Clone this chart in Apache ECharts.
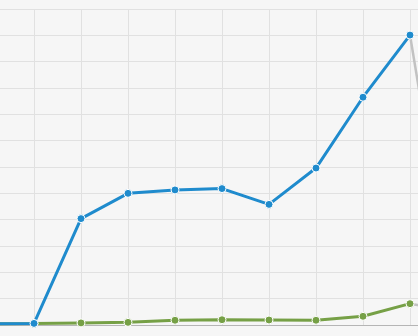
<!DOCTYPE html>
<html>
<head>
<meta charset="utf-8">
<script src="https://cdn.jsdelivr.net/npm/echarts@6/dist/echarts.min.js"></script>
<style>
html,body{margin:0;padding:0;background:#f6f6f6;overflow:hidden;width:418px;height:336px;}
#wrap{position:relative;width:418px;height:336px;overflow:hidden;}
#c{position:absolute;left:-12.7px;top:0;width:470.4px;height:336px;}
</style>
</head>
<body>
<div id="wrap"><div id="c"></div></div>
<script>
// Categories (the view is a crop of a wider chart)
var categories = ['1','2','3','4','5','6','7','8','9','10','11'];
// Blue series
var blueValues = [0.5, 0.6, 40.4, 50.0, 51.3, 51.8, 45.8, 59.6, 86.5, 110.1];
// Green series
var greenValues = [0.5, 0.6, 0.8, 1.0, 1.8, 2.0, 1.9, 1.8, 3.3, 8.1];
// Gray continuation values after the last coloured point
var blueNext = [110.1, 2.0];
var greenNext = [8.1, 5.0];

function tail(pair){
  var arr = [];
  for (var i = 0; i < categories.length; i++) arr.push(null);
  arr[blueValues.length - 1] = pair[0];
  arr[blueValues.length] = pair[1];
  return arr;
}

var chart = echarts.init(document.getElementById('c'));
chart.setOption({
  backgroundColor: '#f6f6f6',
  animation: false,
  grid: { left: 0, right: 0, top: 9, bottom: 11, containLabel: false },
  xAxis: {
    type: 'category',
    data: categories,
    boundaryGap: false,
    axisLine: { show: true, lineStyle: { color: '#b5b5b5', width: 1 } },
    axisTick: { show: false },
    axisLabel: { show: false },
    splitLine: { show: true, lineStyle: { color: '#e1e1e1', width: 1 } }
  },
  yAxis: {
    type: 'value',
    min: 0, max: 120, interval: 10,
    axisLine: { show: false },
    axisTick: { show: false },
    axisLabel: { show: false },
    splitLine: { show: true, lineStyle: { color: '#e1e1e1', width: 1 } }
  },
  series: [
    {
      type: 'line', data: tail(blueNext), symbol: 'none',
      lineStyle: { color: '#c2c2c2', width: 2.5 }, z: 1
    },
    {
      type: 'line', data: tail(greenNext), symbol: 'none',
      lineStyle: { color: '#c2c2c2', width: 2.5 }, z: 1
    },
    {
      type: 'line', data: greenValues, symbol: 'circle', symbolSize: 8,
      lineStyle: { color: '#76a046', width: 3 },
      itemStyle: { color: '#76a046', borderColor: '#ffffff', borderWidth: 1 }, z: 2
    },
    {
      type: 'line', data: blueValues, symbol: 'circle', symbolSize: 8,
      lineStyle: { color: '#1f8bcd', width: 3 },
      itemStyle: { color: '#1f8bcd', borderColor: '#ffffff', borderWidth: 1 }, z: 3
    }
  ]
});
</script>
</body>
</html>
